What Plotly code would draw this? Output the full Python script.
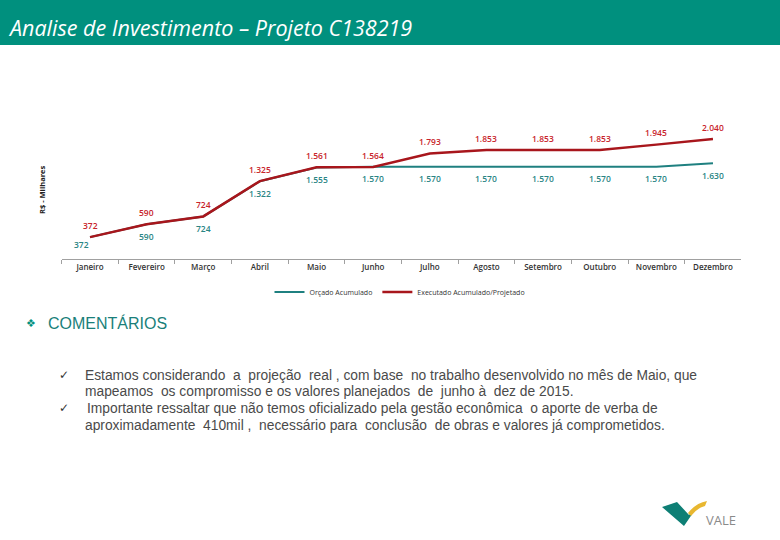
import plotly.graph_objects as go

W, H = 780, 540

meses = ["Janeiro", "Fevereiro", "Março", "Abril", "Maio", "Junho", "Julho",
         "Agosto", "Setembro", "Outubro", "Novembro", "Dezembro"]
orcado = [372, 590, 724, 1322, 1555, 1570, 1570, 1570, 1570, 1570, 1570, 1630]
executado = [372, 590, 724, 1325, 1561, 1564, 1793, 1853, 1853, 1853, 1945, 2040]

TEAL_HDR = "#00907E"
TEAL_LINE = "#1F8080"
TEAL_TXT = "#2A8584"
RED_LINE = "#A8161C"
RED_TXT = "#C8242B"


def fmt(v):
    return f"{v:,}".replace(",", ".")


def px(x):
    return x / W


def py(y):
    return 1 - y / H


fig = go.Figure()

fig.add_trace(go.Scatter(
    x=meses, y=orcado, name="Orçado Acumulado", mode="lines",
    line=dict(color=TEAL_LINE, width=2), hoverinfo="skip",
))
fig.add_trace(go.Scatter(
    x=meses, y=executado, name="Executado Acumulado/Projetado", mode="lines",
    line=dict(color=RED_LINE, width=2.5), hoverinfo="skip",
))

annotations = []
LBL_FONT = "Open Sans"
for i, (m, v) in enumerate(zip(meses, orcado)):
    annotations.append(dict(
        x=m, y=v, xref="x", yref="y", text=fmt(v), showarrow=False,
        xanchor="center", yanchor="middle",
        xshift=-9 if i == 0 else 0, yshift=-7 if i == 0 else -12,
        font=dict(family=LBL_FONT, size=8.5, color=TEAL_TXT, weight=600)))
for m, v in zip(meses, executado):
    annotations.append(dict(
        x=m, y=v, xref="x", yref="y", text=fmt(v), showarrow=False,
        xanchor="center", yanchor="middle", yshift=12,
        font=dict(family=LBL_FONT, size=8.5, color=RED_TXT, weight=600)))

shapes = [
    dict(type="rect", xref="paper", yref="paper", x0=0, x1=1, y0=py(45), y1=1,
         fillcolor=TEAL_HDR, line=dict(width=0), layer="below"),
]


def path(points):
    return "M " + " L ".join(f"{px(a):.5f},{py(b):.5f}" for a, b in points) + " Z"


# VALE logo
shapes.append(dict(type="path", xref="paper", yref="paper",
                   path=path([(662, 507), (677, 502), (689, 515), (697, 507),
                              (684, 526)]),
                   fillcolor="#0E7F75", line=dict(width=0)))
shapes.append(dict(type="path", xref="paper", yref="paper",
                   path=(f"M {px(688):.5f},{py(513):.5f} "
                         f"Q {px(696):.5f},{py(503):.5f} {px(707):.5f},{py(501):.5f} "
                         f"L {px(705):.5f},{py(506):.5f} "
                         f"Q {px(697):.5f},{py(508):.5f} {px(691):.5f},{py(516):.5f} Z"),
                   fillcolor="#E8B730", line=dict(width=0)))

annotations += [
    dict(text="<i>Analise de Investimento – Projeto C138219</i>", x=px(6), y=py(27),
         xref="paper", yref="paper", xanchor="left", yanchor="middle", showarrow=False,
         font=dict(family="Open Sans", size=21.5, color="white")),
    dict(text="<b>R$ - Milhares</b>", x=px(42), y=py(190), xref="paper", yref="paper",
         textangle=-90, showarrow=False, xanchor="center", yanchor="middle",
         font=dict(family="Open Sans", size=7.5, color="#222")),
    dict(text="❖", x=px(31), y=py(323), xref="paper", yref="paper", showarrow=False,
         xanchor="center", yanchor="middle",
         font=dict(family="DejaVu Sans", size=11, color=TEAL_HDR)),
    dict(text="COMENTÁRIOS", x=px(46), y=py(323), xref="paper", yref="paper",
         showarrow=False, xanchor="left", yanchor="middle",
         font=dict(family="Liberation Sans", size=16, color="#1A7F7A")),
    dict(text="VALE", x=px(704), y=py(520), xref="paper", yref="paper",
         showarrow=False, xanchor="left", yanchor="middle",
         font=dict(family="Open Sans", size=13, color="#8A8A8A")),
]

NB = "\u00a0"
lines = [
    (83, 375, f"Estamos considerando {NB}a {NB}projeção {NB}real , com base {NB}no trabalho desenvolvido no mês de Maio, que"),
    (83, 391, f"mapeamos {NB}os compromisso e os valores planejados {NB}de {NB}junho à {NB}dez de 2015."),
    (85, 408, f"Importante ressaltar que não temos oficializado pela gestão econômica {NB}o aporte de verba de"),
    (83, 425, f"aproximadamente {NB}410mil , {NB}necessário para {NB}conclusão {NB}de obras e valores já comprometidos."),
]
for x, y, t in lines:
    annotations.append(dict(text=t, x=px(x), y=py(y), xref="paper", yref="paper",
                            showarrow=False, xanchor="left", yanchor="middle",
                            font=dict(family="Liberation Sans", size=13.8, color="#4A4A4A")))
for y in (375, 408):
    annotations.append(dict(text="✓", x=px(64), y=py(y), xref="paper", yref="paper",
                            showarrow=False, xanchor="center", yanchor="middle",
                            font=dict(family="DejaVu Sans", size=12, color="#333")))

fig.update_layout(
    width=W, height=H, margin=dict(l=0, r=0, t=0, b=0),
    paper_bgcolor="white", plot_bgcolor="white",
    showlegend=True,
    legend=dict(orientation="h", x=px(400), y=py(292), xanchor="center", yanchor="middle",
                font=dict(family="Open Sans", size=7, color="#333"),
                itemwidth=30, tracegroupgap=0, bgcolor="rgba(0,0,0,0)"),
    xaxis=dict(domain=[px(61.7), px(741.3)], range=[-0.5, len(meses) - 0.5],
               showgrid=False, showline=True,
               linecolor="#A0A0A0", linewidth=1, ticks="outside", ticklen=4,
               tickcolor="#A0A0A0", tickson="boundaries",
               tickfont=dict(family="Open Sans", size=8, color="#333", weight=600)),
    yaxis=dict(domain=[py(259), py(112)], range=[0, 2500], showgrid=False,
               showline=False, showticklabels=False, zeroline=False, ticks=""),
    shapes=shapes, annotations=annotations,
)

fig.write_html("out.html", config={"displayModeBar": False},
               post_script="document.body.style.margin='0';document.body.style.overflow='hidden';")
